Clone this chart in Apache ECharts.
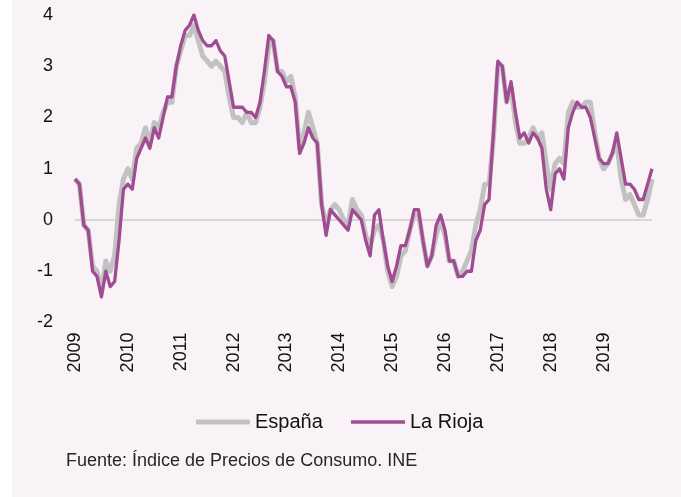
<!DOCTYPE html>
<html>
<head>
<meta charset="utf-8">
<script src="https://cdn.jsdelivr.net/npm/echarts@6/dist/echarts.min.js"></script>
<style>
html,body{margin:0;padding:0;background:#fff;}
#chart{width:681px;height:497px;background:linear-gradient(to right,#ffffff 12px,#f9f3f7 12px);}
</style>
</head>
<body>
<div id="chart"></div>
<script>
const years = [2009, 2010, 2011, 2012, 2013, 2014, 2015, 2016, 2017, 2018, 2019];
const months = ['01','02','03','04','05','06','07','08','09','10','11','12'];
const yTicks = [-2, -1, 0, 1, 2, 3, 4];
const seriesNames = ['España', 'La Rioja'];
const sourceText = 'Fuente: Índice de Precios de Consumo. INE';

const espana = [
  0.8, 0.7, -0.1, -0.2, -0.9, -1.0, -1.4, -0.8, -1.0, -0.7, 0.3, 0.8,
  1.0, 0.8, 1.4, 1.5, 1.8, 1.5, 1.9, 1.8, 2.1, 2.3, 2.3, 3.0,
  3.3, 3.6, 3.6, 3.8, 3.5, 3.2, 3.1, 3.0, 3.1, 3.0, 2.9, 2.4,
  2.0, 2.0, 1.9, 2.1, 1.9, 1.9, 2.2, 2.7, 3.4, 3.5, 2.9, 2.9,
  2.7, 2.8, 2.4, 1.4, 1.7, 2.1, 1.8, 1.5, 0.3, -0.1, 0.2, 0.3,
  0.2, 0.0, -0.1, 0.4, 0.2, 0.1, -0.3, -0.5, -0.2, -0.1, -0.4, -1.0,
  -1.3, -1.1, -0.7, -0.6, -0.2, 0.1, 0.1, -0.4, -0.9, -0.7, -0.3, 0.0,
  -0.3, -0.8, -0.8, -1.1, -1.0, -0.8, -0.6, -0.1, 0.2, 0.7, 0.7, 1.6,
  3.0, 3.0, 2.3, 2.6, 1.9, 1.5, 1.5, 1.6, 1.8, 1.6, 1.7, 1.1,
  0.6, 1.1, 1.2, 1.1, 2.1, 2.3, 2.2, 2.2, 2.3, 2.3, 1.7, 1.2,
  1.0, 1.1, 1.3, 1.5, 0.8, 0.4, 0.5, 0.3, 0.1, 0.1, 0.4, 0.8
];

const laRioja = [
  0.8, 0.7, -0.1, -0.2, -1.0, -1.1, -1.5, -1.0, -1.3, -1.2, -0.4, 0.6,
  0.7, 0.6, 1.2, 1.4, 1.6, 1.4, 1.8, 1.6, 2.0, 2.4, 2.4, 3.0,
  3.4, 3.7, 3.8, 4.0, 3.7, 3.5, 3.4, 3.4, 3.5, 3.3, 3.2, 2.7,
  2.2, 2.2, 2.2, 2.1, 2.1, 2.0, 2.3, 2.9, 3.6, 3.5, 2.9, 2.8,
  2.6, 2.6, 2.3, 1.3, 1.5, 1.8, 1.6, 1.5, 0.3, -0.3, 0.2, 0.1,
  0.0, -0.1, -0.2, 0.2, 0.1, 0.0, -0.4, -0.7, 0.1, 0.2, -0.4, -0.9,
  -1.2, -0.9, -0.5, -0.5, -0.2, 0.2, 0.2, -0.4, -0.9, -0.7, -0.1, 0.1,
  -0.2, -0.8, -0.8, -1.1, -1.1, -1.0, -1.0, -0.4, -0.2, 0.3, 0.4, 1.7,
  3.1, 3.0, 2.3, 2.7, 2.1, 1.6, 1.7, 1.5, 1.7, 1.6, 1.4, 0.6,
  0.2, 0.9, 1.0, 0.8, 1.8, 2.1, 2.3, 2.2, 2.2, 2.0, 1.6, 1.2,
  1.1, 1.1, 1.3, 1.7, 1.2, 0.7, 0.7, 0.6, 0.4, 0.4, 0.7, 1.0
];

const categories = [];
years.forEach(y => months.forEach(m => categories.push(y + '-' + m)));

const FONT = '"Liberation Sans", Arial, sans-serif';
const GREY = '#c2c2c2';
const PURPLE = '#a04b92';
const legendText = {fontSize: 20, color: '#111', fontFamily: FONT};

const chart = echarts.init(document.getElementById('chart'), null, {renderer: 'canvas'});
chart.setOption({
  animation: false,
  backgroundColor: 'transparent',
  textStyle: {fontFamily: FONT},
  grid: {left: 75, right: 29, top: 15, bottom: 174.5, containLabel: false},
  xAxis: {
    type: 'category',
    data: categories,
    boundaryGap: false,
    axisLine: {show: false},
    axisTick: {show: false},
    splitLine: {show: false},
    axisLabel: {
      rotate: 90,
      margin: 10,
      fontSize: 18,
      color: '#111',
      fontFamily: FONT,
      interval: (idx) => idx % 12 === 0,
      formatter: (v) => v.slice(0, 4)
    }
  },
  yAxis: {
    type: 'value',
    min: yTicks[0],
    max: yTicks[yTicks.length - 1],
    interval: 1,
    axisLine: {show: false},
    axisTick: {show: false},
    splitLine: {show: false},
    axisLabel: {margin: 22, fontSize: 18, color: '#111', fontFamily: FONT}
  },
  legend: [
    {
      data: [{name: seriesNames[0], icon: 'roundRect'}],
      left: 196,
      top: 412,
      padding: 0,
      itemWidth: 54,
      itemHeight: 5,
      itemStyle: {color: GREY},
      textStyle: legendText
    },
    {
      data: [{name: seriesNames[1], icon: 'rect'}],
      left: 351,
      top: 412,
      padding: 0,
      itemWidth: 54,
      itemHeight: 3.5,
      itemStyle: {color: PURPLE},
      textStyle: legendText
    }
  ],
  graphic: [{
    type: 'text',
    left: 66,
    top: 452,
    style: {text: sourceText, fontSize: 18, fill: '#262626', fontFamily: FONT}
  }],
  series: [
    {
      name: seriesNames[0],
      type: 'line',
      data: espana,
      symbol: 'none',
      z: 2,
      lineStyle: {color: GREY, width: 5, join: 'round'},
      itemStyle: {color: GREY},
      markLine: {
        silent: true,
        symbol: 'none',
        label: {show: false},
        z: 1,
        lineStyle: {color: '#d9d6d9', width: 2, type: 'solid'},
        data: [{yAxis: 0}]
      }
    },
    {
      name: seriesNames[1],
      type: 'line',
      data: laRioja,
      symbol: 'none',
      z: 3,
      lineStyle: {color: PURPLE, width: 3.3, join: 'round'},
      itemStyle: {color: PURPLE}
    }
  ]
});
</script>
</body>
</html>
